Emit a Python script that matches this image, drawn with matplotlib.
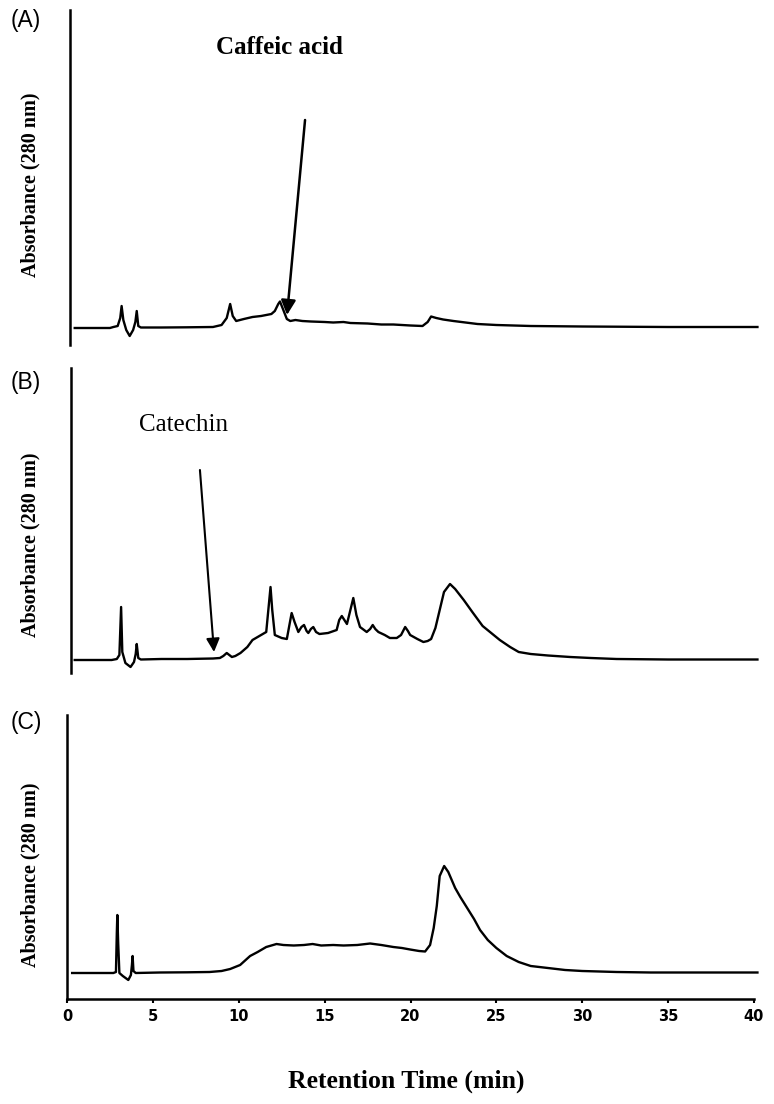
import matplotlib
matplotlib.use("Agg")
import matplotlib.pyplot as plt

# ---------------- data (retention time in min, relative absorbance) ----------------
time_a = [0.45, 2.5, 2.7, 2.95, 3.1, 3.18, 3.28, 3.45, 3.65, 3.85, 3.98, 4.06, 4.15, 4.3, 5.5, 7.0,
          8.5, 9.0, 9.3, 9.5, 9.65, 9.85, 10.3, 10.8, 11.3, 11.6, 11.9, 12.1, 12.3, 12.4, 12.55, 12.8,
          13.0, 13.3, 13.7, 14.2, 15.0, 15.5, 16.1, 16.5, 17.5, 18.3, 19.0, 20.0, 20.7, 21.0, 21.2,
          21.5, 21.9, 22.5, 23.2, 23.9, 25.0, 27.0, 30.0, 35.0, 40.2]
abs_a = [0, 0, 1, 2, 10, 22, 8, -2, -8, -2, 6, 17, 2, 0.5, 0.5, 0.7,
         1, 3, 10, 24, 12, 7, 9, 11, 12, 13, 14, 17, 24, 26.5, 20, 9,
         7, 8, 7, 6.5, 6, 5.5, 6, 5, 4.5, 3.5, 3.5, 2.5, 2, 6, 11.5,
         10, 8.5, 7, 5.5, 4, 3, 2, 1.5, 1, 1]

time_b = [0.45, 2.6, 2.9, 3.05, 3.15, 3.22, 3.4, 3.7, 3.9, 4.0, 4.06, 4.15, 4.3, 5.5, 7.0, 8.5,
          8.9, 9.1, 9.3, 9.6, 9.8, 10.1, 10.5, 10.8, 11.1, 11.4, 11.6, 11.75, 11.85, 11.95, 12.1,
          12.5, 12.8, 12.95, 13.08, 13.25, 13.47, 13.65, 13.8, 13.95, 14.05, 14.2, 14.34, 14.5,
          14.7, 15.2, 15.7, 15.85, 16.0, 16.15, 16.3, 16.5, 16.67, 16.85, 17.06, 17.45, 17.65,
          17.8, 17.95, 18.13, 18.5, 18.8, 19.2, 19.45, 19.69, 19.85, 19.98, 20.4, 20.75, 21.0,
          21.2, 21.45, 21.7, 21.95, 22.3, 22.6, 23.1, 23.6, 24.2, 24.7, 25.2, 25.8, 26.3, 27.0,
          28.0, 29.3, 30.5, 32.0, 35.0, 40.2]
abs_b = [0, 0, 1, 5, 53, 8, -3, -7, -2, 6, 16, 2, 0.5, 1, 1, 1.5,
         2, 4, 7, 3, 4, 7, 13, 20, 23, 26, 28, 55, 73, 50, 25,
         22, 21, 35, 47, 38, 28, 33, 35, 29, 27, 31, 33, 28,
         26, 27, 30, 40, 44, 40, 36, 50, 62, 45, 33, 28, 31,
         35, 31, 28, 25, 22, 22, 25, 33, 29, 25, 21, 18, 19,
         21, 32, 50, 68, 76, 71, 60, 48, 34, 27, 20, 13, 8, 6,
         4.5, 3, 2, 1, 0.5, 0.5]

time_c = [0.3, 2.7, 2.85, 2.9, 2.93, 2.98, 3.05, 3.25, 3.57, 3.72, 3.78, 3.82, 3.87, 4.0, 5.4,
          7.0, 8.3, 9.0, 9.5, 10.08, 10.66, 11.1, 11.6, 12.2, 12.6, 13.2, 13.8, 14.3, 14.8, 15.5,
          16.1, 16.9, 17.65, 18.3, 19.0, 19.5, 19.98, 20.5, 20.85, 21.14, 21.35, 21.53, 21.7,
          21.96, 22.2, 22.6, 22.9, 23.3, 23.7, 24.05, 24.5, 25.0, 25.6, 26.3, 27.0, 28.0, 29.0,
          30.0, 32.0, 34.0, 40.2]
abs_c = [0, 0, 1, 40, 58, 30, 0, -3, -7, -2, 8, 17, 2, 0, 0.5,
         0.7, 1, 2, 4, 8, 17, 21, 26, 29, 28, 27.5, 28, 29, 27.5, 28,
         27.5, 28, 29.5, 28, 26, 25, 23.5, 22, 21.5, 28, 45, 67, 97,
         107, 101, 85, 76, 65, 54, 43, 33, 25, 17, 11, 7, 5, 3,
         2, 1, 0.5, 0.5]

x_ticks = [0, 5, 10, 15, 20, 25, 30, 35, 40]
x_tick_labels = ["0", "5", "10", "15", "20", "25", "30", "35", "40"]
panel_labels = ["(A)", "(B)", "(C)"]
y_label = "Absorbance (280 nm)"
x_label = "Retention Time (min)"
compound_labels = ["Caffeic acid", "Catechin"]

# ---------------- layout ----------------
W, H = 774, 1104
fig = plt.figure(figsize=(W / 100, H / 100), dpi=100)

def px_axes(left, top, right, bottom):
    return fig.add_axes([left / W, 1 - bottom / H, (right - left) / W, (bottom - top) / H])

X0, X1 = 67, 754  # pixel positions of 0 and 40 min

# panel axes: (top, bottom, baseline pixel)
panels = [
    (time_a, abs_a, 10, 345, 328, 70),
    (time_b, abs_b, 368, 673, 660, 71),
    (time_c, abs_c, 715, 999, 973, 67),
]

axes = []
for i, (t, a, top, bot, base, spx) in enumerate(panels):
    ax = px_axes(X0, top, X1, bot)
    ax.set_xlim(0, 40)
    ax.set_ylim(base - bot, base - top)
    ax.plot(t, a, color="black", lw=1.7, clip_on=False, solid_joinstyle="round")
    for s in ["top", "right"]:
        ax.spines[s].set_visible(False)
    ax.spines["left"].set_linewidth(1.8)
    ax.spines["left"].set_position(("data", (spx - X0) / (X1 - X0) * 40))
    ax.set_yticks([])
    if i < 2:
        ax.spines["bottom"].set_visible(False)
        ax.set_xticks([])
    else:
        ax.spines["bottom"].set_linewidth(1.8)
        ax.set_xticks(x_ticks)
        ax.set_xticklabels(x_tick_labels, fontsize=10.5, fontweight="bold",
                           family="DejaVu Sans")
        ax.tick_params(axis="x", direction="out", length=3, width=1.5, pad=4)
    ax.patch.set_alpha(0)
    axes.append(ax)

# panel labels
for lab, y in zip(panel_labels, [20, 382, 722]):
    fig.text(26 / W, 1 - y / H, lab, fontsize=16.5, family="Liberation Sans",
             ha="center", va="center")

# y labels
for y in [185, 545, 875]:
    fig.text(30 / W, 1 - y / H, y_label, rotation=90, fontsize=14.5,
             family="Liberation Serif", fontweight="bold", ha="center", va="center")

fig.text(406 / W, 1 - 1081 / H, x_label, fontsize=18.5, family="Liberation Serif",
         fontweight="bold", ha="center", va="center")

# annotations with arrows
axes[0].annotate("", xy=(12.81, 13), xytext=(13.86, 208),
                 arrowprops=dict(arrowstyle="-|>", color="black", lw=1.8,
                                 mutation_scale=22, shrinkA=0, shrinkB=0))
fig.text(279 / W, 1 - 47 / H, compound_labels[0], fontsize=18,
         family="Liberation Serif", fontweight="bold", ha="center", va="center")

axes[1].annotate("", xy=(8.56, 8), xytext=(7.74, 190),
                 arrowprops=dict(arrowstyle="-|>", color="black", lw=1.5,
                                 mutation_scale=20, shrinkA=0, shrinkB=0))
fig.text(184 / W, 1 - 425 / H, compound_labels[1], fontsize=18,
         family="Liberation Serif", ha="center", va="center")

fig.savefig("out.png", dpi=100)
